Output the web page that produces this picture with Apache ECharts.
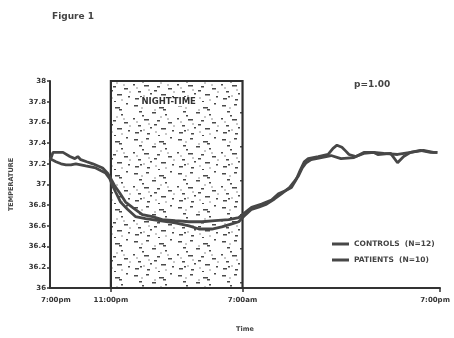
<!DOCTYPE html>
<html><head><meta charset="utf-8">
<script src="https://cdn.jsdelivr.net/npm/echarts@6/dist/echarts.min.js"></script>
<style>html,body{margin:0;padding:0;background:#fff}#c{width:454px;height:338px}</style>
</head><body><div id="c"></div>
<script>
// ---- data (hours after 7:00pm, temperature) ----
var controls = [[0.30,37.23],[0.48,37.31],[0.78,37.31],[1.09,37.31],[1.51,37.27],[1.81,37.25],[1.99,37.27],[2.17,37.24],[2.53,37.22],[2.90,37.20],[3.50,37.16],[3.80,37.11],[3.98,37.06],[4.22,36.99],[4.53,36.92],[4.89,36.83],[5.31,36.78],[5.91,36.71],[6.52,36.69],[7.12,36.66],[7.91,36.65],[8.75,36.64],[9.54,36.64],[10.32,36.65],[11.16,36.66],[11.77,36.68],[12.07,36.72],[12.55,36.78],[13.16,36.81],[13.76,36.85],[14.18,36.91],[14.60,36.94],[14.97,36.97],[15.27,37.05],[15.51,37.14],[15.75,37.22],[15.99,37.25],[16.60,37.27],[17.20,37.29],[17.50,37.35],[17.74,37.38],[18.04,37.36],[18.29,37.32],[18.47,37.29],[18.89,37.27],[19.37,37.30],[19.98,37.31],[20.58,37.30],[21.42,37.29],[22.21,37.31],[22.99,37.33],[23.60,37.31],[23.84,37.31]];
var patients = [[0.30,37.25],[0.66,37.22],[0.97,37.20],[1.27,37.19],[1.57,37.19],[1.87,37.20],[2.17,37.19],[2.47,37.18],[3.08,37.16],[3.68,37.11],[3.92,37.06],[4.10,36.99],[4.28,36.93],[4.59,36.83],[5.01,36.76],[5.49,36.69],[6.10,36.67],[6.94,36.65],[7.91,36.63],[8.75,36.60],[9.35,36.57],[10.14,36.57],[10.74,36.59],[11.35,36.62],[11.77,36.64],[12.07,36.69],[12.55,36.76],[12.98,36.78],[13.46,36.81],[13.94,36.86],[14.36,36.91],[14.85,36.97],[15.15,37.03],[15.39,37.08],[15.63,37.16],[15.87,37.21],[16.17,37.24],[16.78,37.26],[17.38,37.28],[17.98,37.25],[18.77,37.26],[19.37,37.31],[19.98,37.31],[20.22,37.29],[21.00,37.30],[21.42,37.21],[21.79,37.27],[22.21,37.31],[22.81,37.33],[23.42,37.31],[23.84,37.31]];
var seriesNames = ['CONTROLS  (N=12)', 'PATIENTS  (N=10)'];
var nightTime = [4, 12];           // 11:00pm .. 7:00am
var xLabelPos = [0.66, 4, 12, 23.7];
var xLabels = ['7:00pm', '11:00pm', '7:00am', '7:00pm'];
var xTickPos = [4, 12, 24];
var yLabels = ['36','36.2','36.4','36.6','36.8','37','37.2','37.4','37.6','37.8','38'];

// stipple texture for the night-time box
function stipple() {
  var cv = document.createElement('canvas');
  cv.width = 44; cv.height = 34;
  var g = cv.getContext('2d');
  g.fillStyle = '#fff'; g.fillRect(0, 0, 44, 34);
  var dashes = [[2,3,4],[14,2,3],[27,5,5],[38,1,2],[7,9,3],[20,10,4],[33,12,2],[1,16,2],[12,17,5],[25,18,3],[36,20,4],[6,23,3],[18,25,2],[29,26,5],[40,28,2],[3,30,4],[15,31,3],[26,33,2],[10,13,2],[31,7,3],[22,22,3],[8,28,2]];
  g.fillStyle = '#4a4a4a';
  dashes.forEach(function (d) { g.fillRect(d[0], d[1], d[2], 1.5); });
  g.fillStyle = '#c8c8c8';
  [[9,5],[22,7],[35,16],[4,19],[16,21],[41,23],[23,29],[33,31],[11,27],[28,14]].forEach(function (d) { g.fillRect(d[0], d[1], 2, 2); });
  return cv;
}

var chart = echarts.init(document.getElementById('c'), null, {renderer: 'canvas'});
var lineStyle = {color: '#474747', width: 2.8};
var font = 'DejaVu Sans';
chart.setOption({
  animation: false,
  textStyle: {fontFamily: font},
  grid: {left: 47, right: 14, top: 81, bottom: 40},
  legend: {
    orient: 'vertical', left: 327, top: 235, itemGap: 8, itemWidth: 17, itemHeight: 3,
    icon: 'rect',
    textStyle: {fontSize: 7.5, fontWeight: 'bold', color: '#444', fontFamily: font},
    data: seriesNames
  },
  xAxis: {
    type: 'value', min: 0.3, max: 24,
    name: 'Time', nameLocation: 'middle', nameGap: 38,
    nameTextStyle: {fontSize: 6.5, fontWeight: 'bold', color: '#444'},
    axisLine: {lineStyle: {color: '#333', width: 2}},
    axisTick: {show: true, customValues: xTickPos, length: 4, lineStyle: {color: '#333', width: 1.5}},
    splitLine: {show: false},
    axisLabel: {
      customValues: xLabelPos, margin: 9, fontSize: 7, fontWeight: 'bold', color: '#333',
      formatter: function (v) { var i = xLabelPos.indexOf(v); return i >= 0 ? xLabels[i] : ''; }
    }
  },
  yAxis: {
    type: 'value', min: 36, max: 38, interval: 0.2,
    name: 'TEMPERATURE', nameLocation: 'middle', nameGap: 35, nameRotate: 90,
    nameTextStyle: {fontSize: 6.5, fontWeight: 'bold', color: '#444'},
    axisLine: {show: true, lineStyle: {color: '#333', width: 2}},
    axisTick: {show: true, length: 3, lineStyle: {color: '#333', width: 1.5}},
    splitLine: {show: false},
    axisLabel: {
      margin: 4, fontSize: 7, fontWeight: 'bold', color: '#333',
      formatter: function (v) { return yLabels[Math.round((v - 36) / 0.2)]; }
    }
  },
  graphic: [
    {type: 'text', left: 52, top: 12, style: {text: 'Figure 1', font: 'bold 9px ' + font, fill: '#444'}},
    {type: 'text', left: 354, top: 80, style: {text: 'p=1.00', font: 'bold 9px ' + font, fill: '#444'}}
  ],
  series: [
    {
      name: seriesNames[0], type: 'line', data: controls, showSymbol: false, symbol: 'none',
      lineStyle: lineStyle, itemStyle: {color: '#474747'}, z: 3,
      markArea: {
        silent: true,
        itemStyle: {color: {image: stipple(), repeat: 'repeat'}, borderColor: '#2e2e2e', borderWidth: 2.2},
        label: {show: true, position: 'insideTop', distance: 17, offset: [-8, 0],
                formatter: 'NIGHT-TIME', fontSize: 8.5, fontWeight: 'bold', color: '#333',
                backgroundColor: '#fff', padding: [0, 1]},
        data: [[{xAxis: nightTime[0], yAxis: 38}, {xAxis: nightTime[1], yAxis: 36}]]
      }
    },
    {
      name: seriesNames[1], type: 'line', data: patients, showSymbol: false, symbol: 'none',
      lineStyle: lineStyle, itemStyle: {color: '#474747'}, z: 3
    }
  ]
});
</script></body></html>
